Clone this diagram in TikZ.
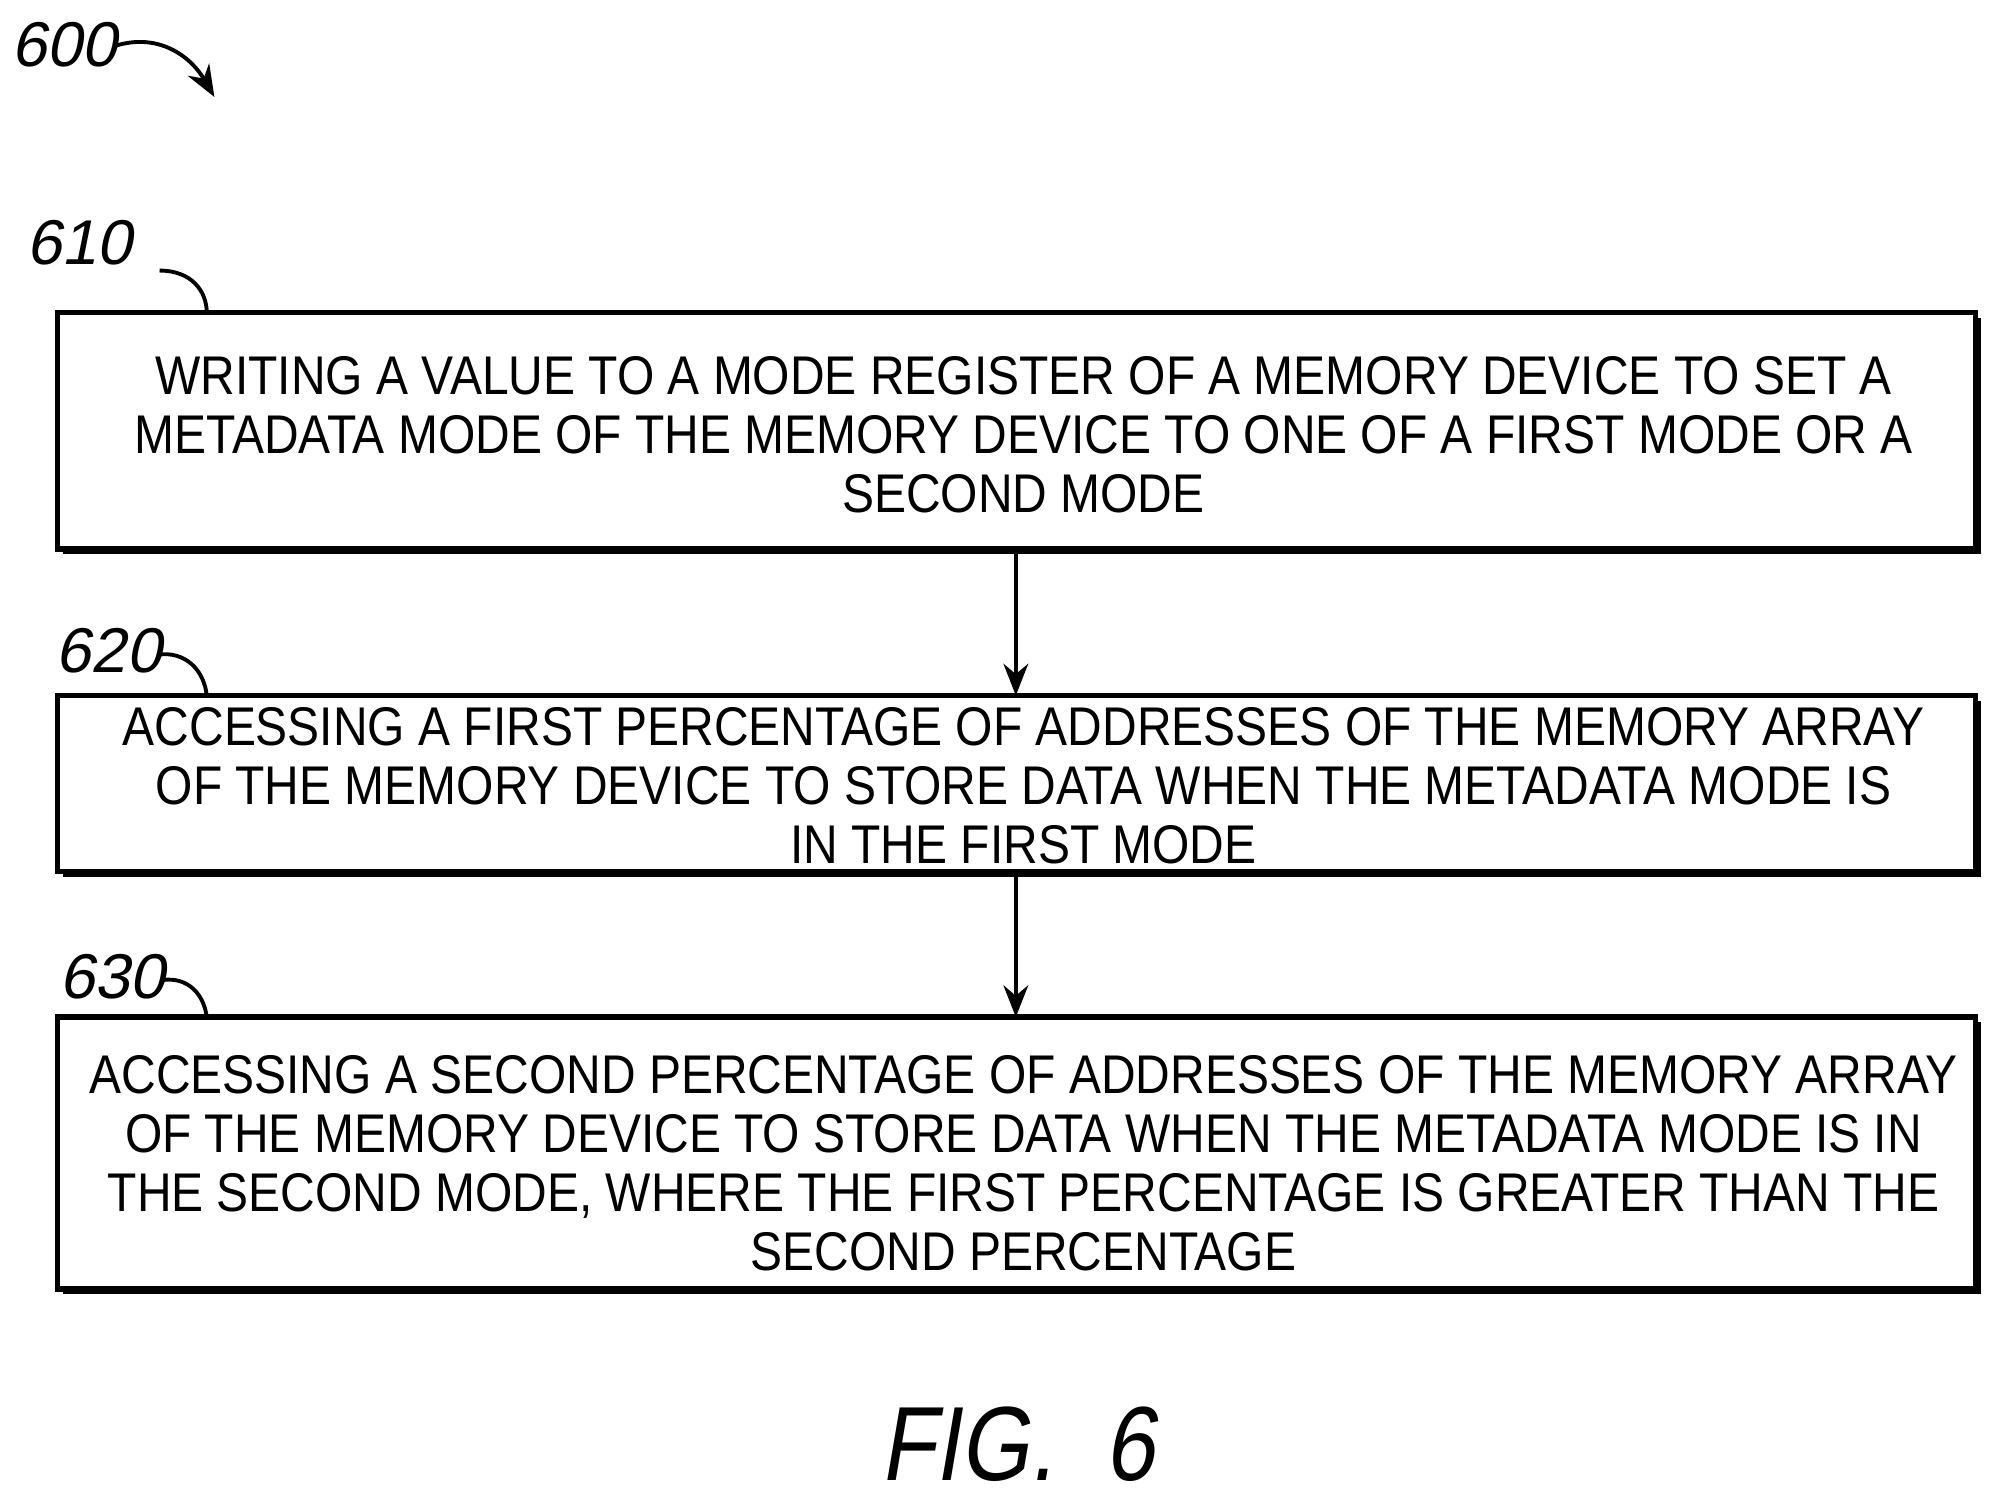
\documentclass[tikz,border=0pt]{standalone}
\usepackage{fontspec}
\setmainfont{Liberation Sans}
\newfontfamily\figfont{Liberation Sans}[FakeSlant=0.2]
\usetikzlibrary{arrows.meta}
\newcommand{\narrowtext}[1]{\scalebox{0.88}[1]{\begin{tabular}{@{}c@{}}#1\end{tabular}}}
\begin{document}
\begin{tikzpicture}[x=0.01276cm,y=-0.01276cm,
  boxline/.style={draw,line width=1.6pt},
  txt/.style={font=\fontsize{15.5}{16.8}\selectfont,inner sep=0pt},
  lbl/.style={font=\figfont\fontsize{18}{22}\selectfont},
  arr/.style={line width=1.3pt,-{Stealth[length=9pt,width=7pt]}},
  lead/.style={line width=1.1pt}]
\useasboundingbox (0,0) rectangle (1568,1176);
% shadows
\fill (49,249) rectangle (1552,434);
\fill (49,549) rectangle (1552,687);
\fill (49,801) rectangle (1552,1014);
\draw[boxline,fill=white] (45,245) rectangle (1548,430);
\draw[boxline,fill=white] (45,545) rectangle (1548,683);
\draw[boxline,fill=white] (45,797) rectangle (1548,1010);
\node[txt] (t1) at (802,346) {\narrowtext{WRITING A VALUE TO A MODE REGISTER OF A MEMORY DEVICE TO SET A\\ METADATA MODE OF THE MEMORY DEVICE TO ONE OF A FIRST MODE OR A\\ SECOND MODE}};
\node[txt] (t2) at (802,621) {\narrowtext{ACCESSING A FIRST PERCENTAGE OF ADDRESSES OF THE MEMORY ARRAY\\ OF THE MEMORY DEVICE TO STORE DATA WHEN THE METADATA MODE IS\\ IN THE FIRST MODE}};
\node[txt] (t3) at (802,917) {\narrowtext{ACCESSING A SECOND PERCENTAGE OF ADDRESSES OF THE MEMORY ARRAY\\ OF THE MEMORY DEVICE TO STORE DATA WHEN THE METADATA MODE IS IN\\ THE SECOND MODE, WHERE THE FIRST PERCENTAGE IS GREATER THAN THE\\ SECOND PERCENTAGE}};
\coordinate (a1) at (796,432); \coordinate (a2) at (796,545);
\coordinate (a3) at (796,685); \coordinate (a4) at (796,797);
\draw[arr] (a1) -- (a2);
\draw[arr] (a3) -- (a4);
% labels
\node[lbl] (l600) at (50,35) {600};
\coordinate (c600) at (168,76);
\draw[lead,-{Stealth[length=9pt,width=7pt]}] (90,36) .. controls (125,25) and (150,45) .. (c600);
\node[lbl] (l610) at (62,190) {610};
\draw[lead] (125,212) .. controls (150,212) and (162,228) .. (162,245);
\node[lbl] (l620) at (85,510) {620};
\draw[lead] (124,513) .. controls (145,510) and (160,525) .. (162,545);
\node[lbl] (l630) at (88,765) {630};
\draw[lead] (127,768) .. controls (148,765) and (160,780) .. (162,797);
\node[font=\figfont\fontsize{30}{34}\selectfont] (fig) at (797,1132) {\scalebox{0.85}[1]{FIG.~~6}};
\end{tikzpicture}
\end{document}
